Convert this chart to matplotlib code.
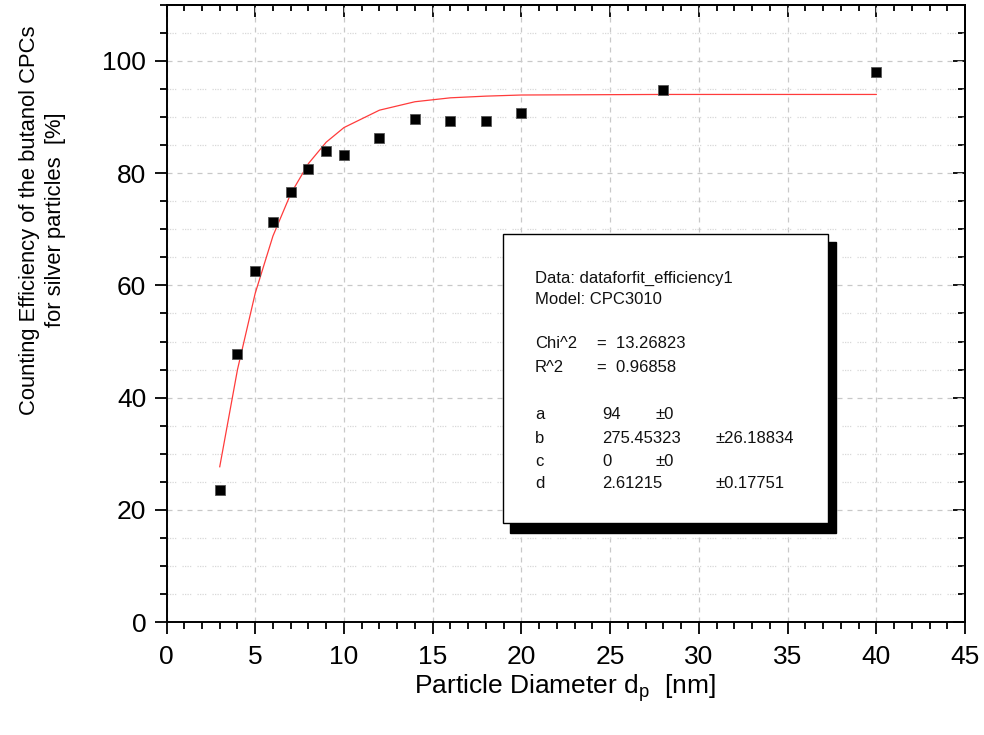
import matplotlib
matplotlib.use("Agg")
import matplotlib.pyplot as plt
from matplotlib.ticker import MultipleLocator
from matplotlib.patches import Rectangle

plt.rcParams['font.family'] = ['Liberation Sans', 'DejaVu Sans']

# Measured data
diam = [3, 4, 5, 6, 7, 8, 9, 10, 12, 14, 16, 18, 20, 28, 40]
eff = [23.6, 47.7, 62.6, 71.2, 76.6, 80.7, 84.0, 83.2, 86.2, 89.6, 89.3, 89.3, 90.7, 94.8, 98.0]
# Fit curve values (CPC3010 model) at the same diameters
fit = [27.7, 45.0, 58.6, 68.8, 76.3, 81.7, 85.5, 88.1, 91.2, 92.7, 93.4, 93.7, 93.9, 94.0, 94.0]

xticks = [0, 5, 10, 15, 20, 25, 30, 35, 40, 45]
yticks = [0, 20, 40, 60, 80, 100]

box_lines = ["Data: dataforfit_efficiency1", "Model: CPC3010"]
stats = [("Chi^2", "=  13.26823"), ("R^2", "=  0.96858")]
params = [("a", "94", "±0", ""), ("b", "275.45323", "", "±26.18834"),
          ("c", "0", "±0", ""), ("d", "2.61215", "", "±0.17751")]

W, H = 984, 735
fig = plt.figure(figsize=(W / 100, H / 100), dpi=100)
L, R, T, B = 166.5, 965, 4.6, 622.3
ax = fig.add_axes([L / W, 1 - B / H, (R - L) / W, (B - T) / H])

ax.plot(diam, fit, color='#ff3b3b', lw=0.9, zorder=3)
ax.plot(diam, eff, ls='none', marker='s', ms=7.3, mfc='black', mec='#555555', mew=0.6, zorder=4)

ax.set_xlim(0, 45)
ax.set_ylim(0, 110)
ax.set_xticks(xticks)
ax.set_yticks(yticks)
ax.xaxis.set_minor_locator(MultipleLocator(1))
ax.yaxis.set_minor_locator(MultipleLocator(5))

for s in ax.spines.values():
    s.set_linewidth(1.4)

ax.tick_params(which='both', direction='out', top=False, right=False, width=1.3, labelsize=19)
ax.tick_params(axis='x', pad=8)
ax.tick_params(axis='y', pad=6)
ax.tick_params(which='major', length=8.5)
ax.tick_params(which='minor', length=5)

ax.grid(True, which='major', color='#c8c8c8', lw=0.9, dashes=(4, 4))
ax.yaxis.grid(True, which='minor', color='#d8d8d8', lw=0.9, dashes=(1, 1, 1, 1, 1, 1, 1, 5))
ax.set_axisbelow(True)

secx = ax.secondary_xaxis('top')
secx.set_xticks(xticks)
secx.xaxis.set_minor_locator(MultipleLocator(1))
secx.tick_params(which='both', direction='in', labeltop=False, width=1.3)
secx.tick_params(which='major', length=8.5)
secx.tick_params(which='minor', length=4)
secx.spines['top'].set_linewidth(1.4)

secy = ax.secondary_yaxis('right')
secy.set_yticks(yticks)
secy.yaxis.set_minor_locator(MultipleLocator(5))
secy.tick_params(which='both', direction='in', labelright=False, width=1.3)
secy.tick_params(which='major', length=8.5)
secy.tick_params(which='minor', length=5)
secy.spines['right'].set_linewidth(1.4)

def fx(x):
    return x / W

def fy(y):
    return 1 - y / H

# axis labels
fig.text(fx(565), fy(693), r"Particle Diameter d$_\mathregular{p}$  [nm]", ha='center', va='baseline', fontsize=19)
fig.text(fx(42.5), fy(220), "Counting Efficiency of the butanol CPCs\nfor silver particles  [%]",
         ha='center', va='center', rotation=90, fontsize=15.8, multialignment='center', linespacing=1.3)

# fit report box
shadow = Rectangle((fx(510), fy(533)), fx(836) - fx(510), fy(242) - fy(533),
                   transform=fig.transFigure, facecolor='black', edgecolor='black', zorder=10)
box = Rectangle((fx(503), fy(523)), fx(828) - fx(503), fy(234) - fy(523),
                transform=fig.transFigure, facecolor='white', edgecolor='black', lw=1.0, zorder=11)
fig.add_artist(shadow)
fig.add_artist(box)

fs = 12
tk = dict(fontsize=fs, va='center', ha='left', zorder=12, color='#111111')
fig.text(fx(535), fy(278), box_lines[0], **tk)
fig.text(fx(535), fy(300), box_lines[1], **tk)
for (name, val), yy in zip(stats, [344, 367]):
    fig.text(fx(535), fy(yy), name, **tk)
    fig.text(fx(597), fy(yy), val, **tk)
for (name, val, e1, e2), yy in zip(params, [415, 438, 461, 483]):
    fig.text(fx(535), fy(yy), name, **tk)
    fig.text(fx(602), fy(yy), val, **tk)
    if e1:
        fig.text(fx(655), fy(yy), e1, **tk)
    if e2:
        fig.text(fx(716), fy(yy), e2, **tk)

fig.savefig("out.png", dpi=100)
